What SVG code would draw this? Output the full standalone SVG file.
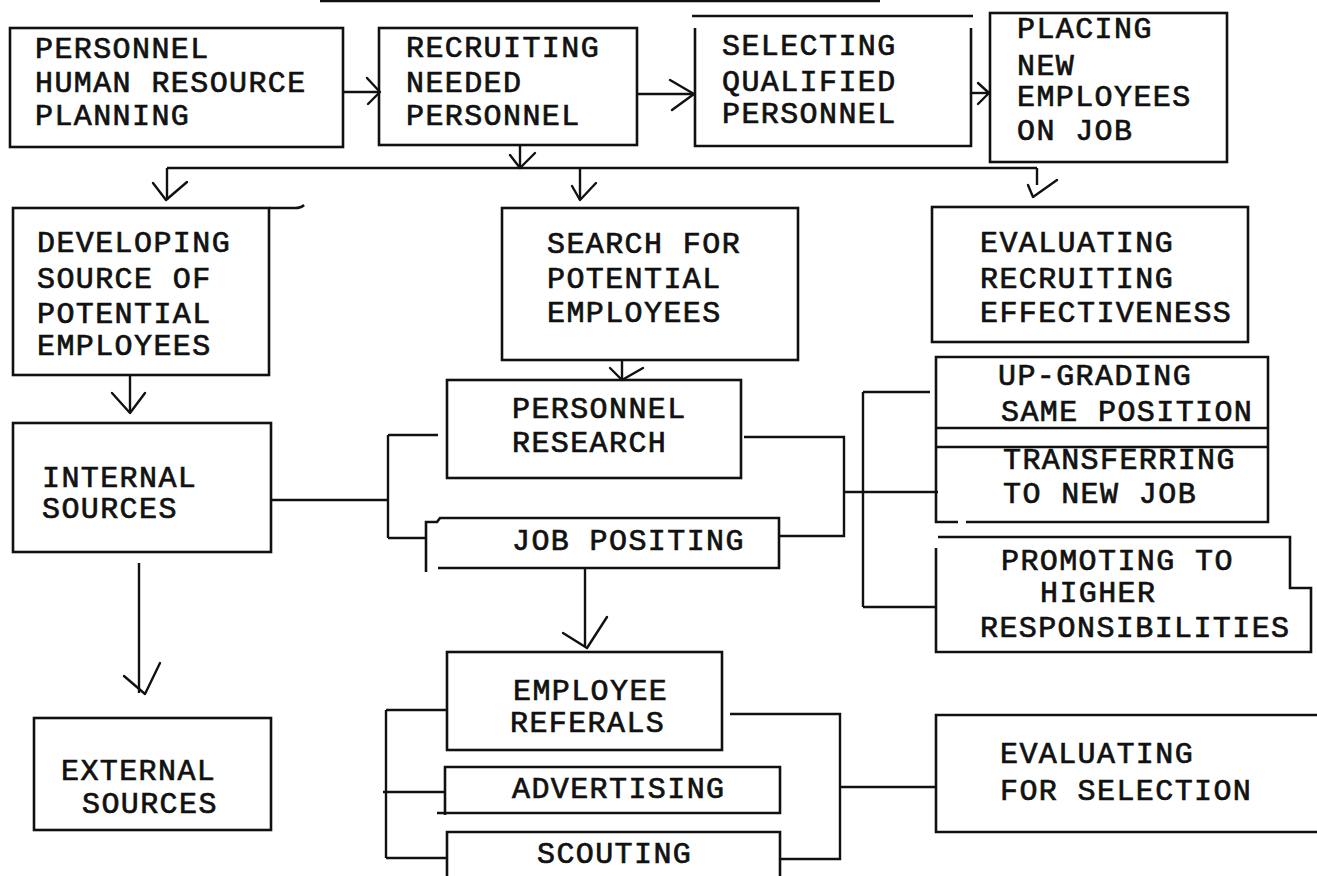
<svg xmlns="http://www.w3.org/2000/svg" width="1317" height="876" viewBox="0 0 1317 876">
<style>
.b{fill:none;stroke:#111;stroke-width:2.6;stroke-linejoin:miter}
.c{fill:none;stroke:#111;stroke-width:2.4}
.h{fill:none;stroke:#111;stroke-width:2.4;stroke-linecap:round;stroke-linejoin:round}
.t{font-family:"Liberation Mono","Courier New",monospace;font-size:30px;letter-spacing:1.4px;font-weight:normal;fill:#111;stroke:#111;stroke-width:0.7}
</style>
<rect width="1317" height="876" fill="#fff"/>
<line class="c" x1="320" y1="1" x2="880" y2="1"/>

<g id="n-planning">
<rect class="b" x="10" y="28" width="333" height="119"/>
<text class="t" x="35" y="58">PERSONNEL</text>
<text class="t" x="35" y="92">HUMAN RESOURCE</text>
<text class="t" x="35" y="125">PLANNING</text>
</g>

<g id="n-recruiting">
<rect class="b" x="379" y="28" width="258" height="117"/>
<text class="t" x="406" y="57">RECRUITING</text>
<text class="t" x="406" y="92">NEEDED</text>
<text class="t" x="406" y="125">PERSONNEL</text>
</g>

<g id="n-selecting">
<path class="b" d="M692 16 H973"/>
<path class="b" d="M695 28 V146 H971 V28"/>
<text class="t" x="722" y="55">SELECTING</text>
<text class="t" x="722" y="91">QUALIFIED</text>
<text class="t" x="722" y="123">PERSONNEL</text>
</g>

<g id="n-placing">
<rect class="b" x="990" y="13" width="237" height="149"/>
<text class="t" x="1017" y="38">PLACING</text>
<text class="t" x="1017" y="75">NEW</text>
<text class="t" x="1017" y="106">EMPLOYEES</text>
<text class="t" x="1017" y="140">ON JOB</text>
</g>

<g id="n-developing">
<rect class="b" x="13" y="208" width="256" height="167"/>
<path class="b" d="M269 208 H295 Q301 208 304 205"/>
<text class="t" x="37" y="252">DEVELOPING</text>
<text class="t" x="37" y="288">SOURCE OF</text>
<text class="t" x="37" y="323">POTENTIAL</text>
<text class="t" x="37" y="355">EMPLOYEES</text>
</g>

<g id="n-search">
<rect class="b" x="502" y="208" width="296" height="152"/>
<text class="t" x="547" y="253">SEARCH FOR</text>
<text class="t" x="547" y="288">POTENTIAL</text>
<text class="t" x="547" y="322">EMPLOYEES</text>
</g>

<g id="n-evalrec">
<rect class="b" x="932" y="207" width="316" height="135"/>
<text class="t" x="980" y="252">EVALUATING</text>
<text class="t" x="980" y="288">RECRUITING</text>
<text class="t" x="980" y="322">EFFECTIVENESS</text>
</g>

<g id="n-internal">
<rect class="b" x="13" y="423" width="258" height="129"/>
<text class="t" x="42" y="487">INTERNAL</text>
<text class="t" x="42" y="518">SOURCES</text>
</g>

<g id="n-persres">
<rect class="b" x="447" y="380" width="294" height="98"/>
<text class="t" x="512" y="418">PERSONNEL</text>
<text class="t" x="512" y="452">RESEARCH</text>
</g>

<g id="n-jobpos">
<path class="b" d="M426 572 V522 H437 L440 518 H779 V568 H438"/>
<text class="t" x="512" y="550">JOB POSITING</text>
</g>

<g id="n-upgrading">
<path class="b" d="M958 522 H936 V357 H1268 V522 H966"/>
<path class="b" d="M936 428 H1268 M936 447 H1268"/>
<text class="t" x="998" y="385">UP-GRADING</text>
<text class="t" x="1001" y="421">SAME POSITION</text>
<text class="t" x="1003" y="469">TRANSFERRING</text>
<text class="t" x="1003" y="503">TO NEW JOB</text>
</g>

<g id="n-promoting">
<path class="b" d="M936 548 V652 H1311 V588 H1290 V537 H938"/>
<text class="t" x="1001" y="570">PROMOTING TO</text>
<text class="t" x="1040" y="602">HIGHER</text>
<text class="t" x="980" y="637">RESPONSIBILITIES</text>
</g>

<g id="n-external">
<rect class="b" x="34" y="718" width="237" height="112"/>
<text class="t" x="61" y="780">EXTERNAL</text>
<text class="t" x="82" y="813">SOURCES</text>
</g>

<g id="n-referals">
<rect class="b" x="447" y="652" width="275" height="98"/>
<text class="t" x="513" y="700">EMPLOYEE</text>
<text class="t" x="510" y="732">REFERALS</text>
</g>

<g id="n-advertising">
<path class="b" d="M445 815 V767 H780 V813 H437"/>
<text class="t" x="512" y="798">ADVERTISING</text>
</g>

<g id="n-scouting">
<path class="b" d="M447 880 V832 H780 V880"/>
<text class="t" x="537" y="863">SCOUTING</text>
</g>

<g id="n-evalsel">
<path class="b" d="M1322 715 H936 V832 H1322"/>
<text class="t" x="1000" y="763">EVALUATING</text>
<text class="t" x="1000" y="800">FOR SELECTION</text>
</g>

<g id="connectors">
<path class="c" d="M343 92 H380"/>
<path class="h" d="M367 78 L380 92 L368 104"/>
<path class="c" d="M637 94 H695"/>
<path class="h" d="M670 80 L694 94 L672 110"/>
<path class="c" d="M971 93 H990"/>
<path class="h" d="M978 83 L989 93 L978 104"/>
<path class="c" d="M520 145 V168"/>
<path class="h" d="M510 155 L520 168 L535 153"/>
<path class="c" d="M167 168 H1037"/>
<path class="c" d="M167 168 V200"/>
<path class="h" d="M153 183 L166 200 L187 182"/>
<path class="c" d="M580 168 V200"/>
<path class="h" d="M572 186 L580 200 L596 183"/>
<path class="c" d="M1037 168 V185"/>
<path class="h" d="M1028 185 L1033 197 L1057 180"/>
<path class="c" d="M130 375 V413"/>
<path class="h" d="M112 393 L130 413 L145 393"/>
<path class="c" d="M139 563 V693"/>
<path class="h" d="M124 676 L145 694 L160 663"/>
<path class="c" d="M271 500 H388 M388 435 V538 M388 435 H438 M388 538 H426"/>
<path class="c" d="M622 360 V380"/>
<path class="h" d="M610 368 L622 380 L643 368"/>
<path class="c" d="M744 437 H844 V536 H779 M844 492 H863"/>
<path class="c" d="M863 392 V607 M863 392 H930 M863 492 H938 M863 607 H936"/>
<path class="c" d="M585 568 V646"/>
<path class="h" d="M563 633 L587 648 L607 617"/>
<path class="c" d="M386 710 V858 M386 710 H447 M383 792 H445 M386 858 H447"/>
<path class="c" d="M730 714 H840 V859 H780 M840 787 H936"/>
</g>
</svg>
